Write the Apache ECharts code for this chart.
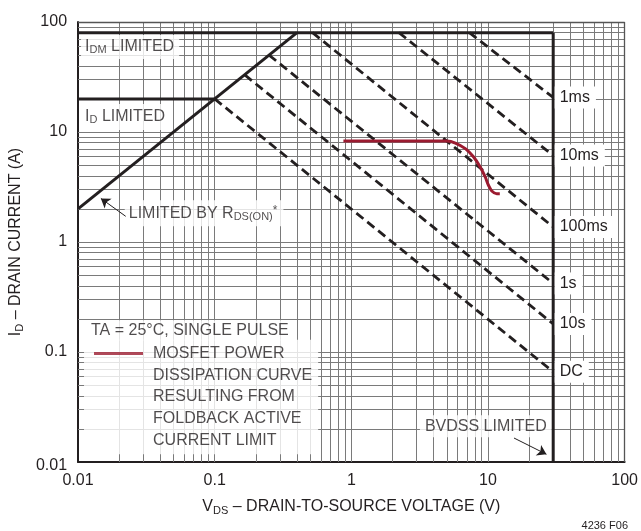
<!DOCTYPE html>
<html><head><meta charset="utf-8">
<script src="https://cdn.jsdelivr.net/npm/echarts@6/dist/echarts.min.js"></script>
<style>html,body{margin:0;padding:0;background:#fff}#c{width:641px;height:531px}</style>
</head><body><div id="c"></div>
<script>
// ---------- data ----------
const xTickValues = [0.01, 0.1, 1, 10, 100];
const xTickLabels = ['0.01', '0.1', '1', '10', '100'];
const yTickValues = [0.01, 0.1, 1, 10, 100];
const yTickLabels = ['0.01', '0.1', '1', '10', '100'];
const gridDecades = [0.01, 0.1, 1, 10];
const gridMultipliers = [1, 2, 3, 4, 5, 6, 7, 8, 9];

const idmLimit = [[0.01, 80], [30, 80]];
const idLimit = [[0.01, 20], [0.1, 20]];
const rdsLimit = [[0.01, 2], [0.4, 80]];
const bvdssLimit = [[30, 80], [30, 0.01]];

const pulseNames = ['1ms', '10ms', '100ms', '1s', '10s', 'DC'];
const pulseStartV = [7.3, 2.23, 0.52, 0.25, 0.166, 0.1];
const pulseStartI = [80, 80, 80, 50, 33, 20];
const pulseEndV = [30, 30, 30, 30, 30, 30];
const pulseEndI = [20.6, 6.1, 1.37, 0.42, 0.18, 0.066];

const foldbackV = [0.875, 5.02, 5.77, 6.83, 7.85, 8.77, 9.54, 10.08, 10.66, 11.59, 12.2];
const foldbackI = [8.28, 8.28, 7.94, 7.06, 5.92, 4.81, 3.90, 3.28, 2.91, 2.75, 2.75];

// ---------- styles ----------
const FONT = "'Liberation Sans Narrow','Arial Narrow','Liberation Sans',Arial,sans-serif";
const FS = 16;
const INK = '#231f20';
const RED = '#9b1b30';
const GRID = '#7a7a7a';

const RICH = {
  t: { fontFamily: FONT, fontSize: FS, lineHeight: 18, color: INK },
  s: { fontFamily: FONT, fontSize: 11, lineHeight: 8, verticalAlign: 'bottom', color: INK },
  sup: { fontFamily: FONT, fontSize: 12, lineHeight: 12, verticalAlign: 'top', color: INK },
  tl: { fontFamily: FONT, fontSize: FS, lineHeight: 21.7, color: INK },
  sw: { width: 49, height: 3, backgroundColor: RED },
  gap: { width: 10 },
  ind: { width: 59 },
  lo: { fontFamily: FONT, fontSize: FS, color: INK, padding: [8, 0, 0, 0] }
};

function tickLabel(values, labels) {
  return function (v) {
    for (let i = 0; i < values.length; i++) {
      if (Math.abs(Math.log10(v / values[i])) < 1e-6) return labels[i];
    }
    return '';
  };
}

// gridlines
const gridX = [], gridY = [];
gridDecades.forEach(d => gridMultipliers.forEach(m => { gridX.push(m * d); gridY.push(m * d); }));
const gridLines = [];
gridX.forEach((v, i) => { if (i > 0) gridLines.push({ xAxis: v }); });
gridY.forEach((v, i) => { if (i > 0) gridLines.push({ yAxis: v }); });
gridLines.push({ xAxis: 100, lineStyle: { color: '#555', width: 1.3 } });
gridLines.push({ yAxis: 100, lineStyle: { color: '#555', width: 1.3 } });

const solid = { color: INK, width: 3, cap: 'butt' };

const series = [];
series.push({
  type: 'line', data: [[1, 1]], symbol: 'none', lineStyle: { opacity: 0 }, silent: true, z: 1,
  markLine: {
    z: 1, silent: true, symbol: ['none', 'none'], label: { show: false }, animation: false,
    lineStyle: { color: GRID, width: 1, type: 'solid' }, data: gridLines
  }
});

[idmLimit, idLimit, rdsLimit, bvdssLimit].forEach(d => series.push({
  type: 'line', data: d, symbol: 'none', lineStyle: solid, silent: true, z: 4
}));

pulseNames.forEach((name, i) => series.push({
  type: 'line', name: name, silent: true, z: 4, symbol: 'circle', symbolSize: 0,
  lineStyle: { color: INK, width: 2.8, type: [9, 5], cap: 'butt' },
  data: [
    { value: [pulseStartV[i], pulseStartI[i]] },
    { value: [pulseEndV[i], pulseEndI[i]],
      label: { show: true, position: 'right', distance: 1.5, formatter: '{t|' + name + '}',
               backgroundColor: '#fff', padding: [2, 6, 2, 5], rich: RICH } }
  ]
}));

series.push({
  type: 'line', silent: true, z: 5, symbol: 'none', smooth: 0.35,
  lineStyle: { color: RED, width: 3 },
  data: foldbackV.map((v, i) => [v, foldbackI[i]])
});

// annotation labels (anchored in data coordinates)
function annot(coord, text, padding) {
  return { value: coord, label: { show: true, position: 'right', distance: 0, formatter: text,
    backgroundColor: '#fff', padding: padding, rich: RICH } };
}
series.push({
  type: 'scatter', silent: true, z: 3, symbol: 'circle', symbolSize: 0,
  data: [
    annot([0.01052, 59.3], '{t|I}{s|DM}{t| LIMITED}', [3, 5, 3, 4]),
    annot([0.01052, 13.7], '{t|I}{s|D}{t| LIMITED}', [4, 6, 4, 4]),
    annot([0.02197, 1.824], '{t|LIMITED BY R}{s|DS(ON)}{sup|*}', [4, 6, 4, 4]),
    annot([0.01144, 0.1575], '{t|TA = 25°C, SINGLE PULSE}', [1, 5, 1, 5]),
    annot([0.01106, 0.039], '{sw|}{gap|}{tl|MOSFET POWER}\n{ind|}{tl|DISSIPATION CURVE}\n{ind|}{tl|RESULTING FROM}\n{ind|}{tl|FOLDBACK ACTIVE}\n{ind|}{tl|CURRENT LIMIT}', [3, 6, 3, 10]),
    annot([3.176, 0.02112], '{t|BVDSS LIMITED}', [2, 5, 2, 5])
  ]
});

// arrows
series.push({
  type: 'lines', coordinateSystem: 'cartesian2d', silent: true, z: 5,
  symbol: ['none', 'arrow'], symbolSize: 9,
  lineStyle: { color: INK, width: 1, opacity: 1 },
  data: [
    { coords: [[0.02233, 1.712], [0.01469, 2.49]] },
    { coords: [[15.5, 0.01652], [26.77, 0.01175]] }
  ]
});

const chart = echarts.init(document.getElementById('c'), null, { renderer: 'canvas' });
chart.setOption({
  animation: false,
  backgroundColor: '#fff',
  textStyle: { fontFamily: FONT },
  grid: { left: 77, right: 14, top: 22, bottom: 69 },
  xAxis: {
    type: 'log', logBase: 10, min: 0.01, max: 100, interval: 1,
    axisLine: { lineStyle: { color: INK, width: 2 } },
    axisTick: { show: false }, splitLine: { show: false }, minorTick: { show: false },
    axisLabel: { fontFamily: FONT, fontSize: FS, color: INK, margin: 11,
      formatter: tickLabel(xTickValues, xTickLabels) },
    name: '{t|V}{s|DS}{t| – DRAIN-TO-SOURCE VOLTAGE (V)}',
    nameLocation: 'middle', nameGap: 36,
    nameTextStyle: { rich: RICH }
  },
  yAxis: {
    type: 'log', logBase: 10, min: 0.01, max: 100, interval: 1,
    axisLine: { lineStyle: { color: INK, width: 2 } },
    axisTick: { show: false }, splitLine: { show: false }, minorTick: { show: false },
    axisLabel: { fontFamily: FONT, fontSize: FS, color: INK, margin: 11, rich: RICH,
      formatter: function (v) {
        const s = tickLabel(yTickValues, yTickLabels)(v);
        return s === yTickLabels[0] ? '{lo|' + s + '}' : s;
      } },
    name: '{t|I}{s|D}{t| – DRAIN CURRENT (A)}',
    nameLocation: 'middle', nameGap: 48,
    nameTextStyle: { rich: RICH }
  },
  graphic: [{
    type: 'text', right: 13, top: 520,
    style: { text: '4236 F06', fontFamily: FONT, fontSize: 11, fill: INK }
  }],
  series: series
});
</script>
</body></html>
